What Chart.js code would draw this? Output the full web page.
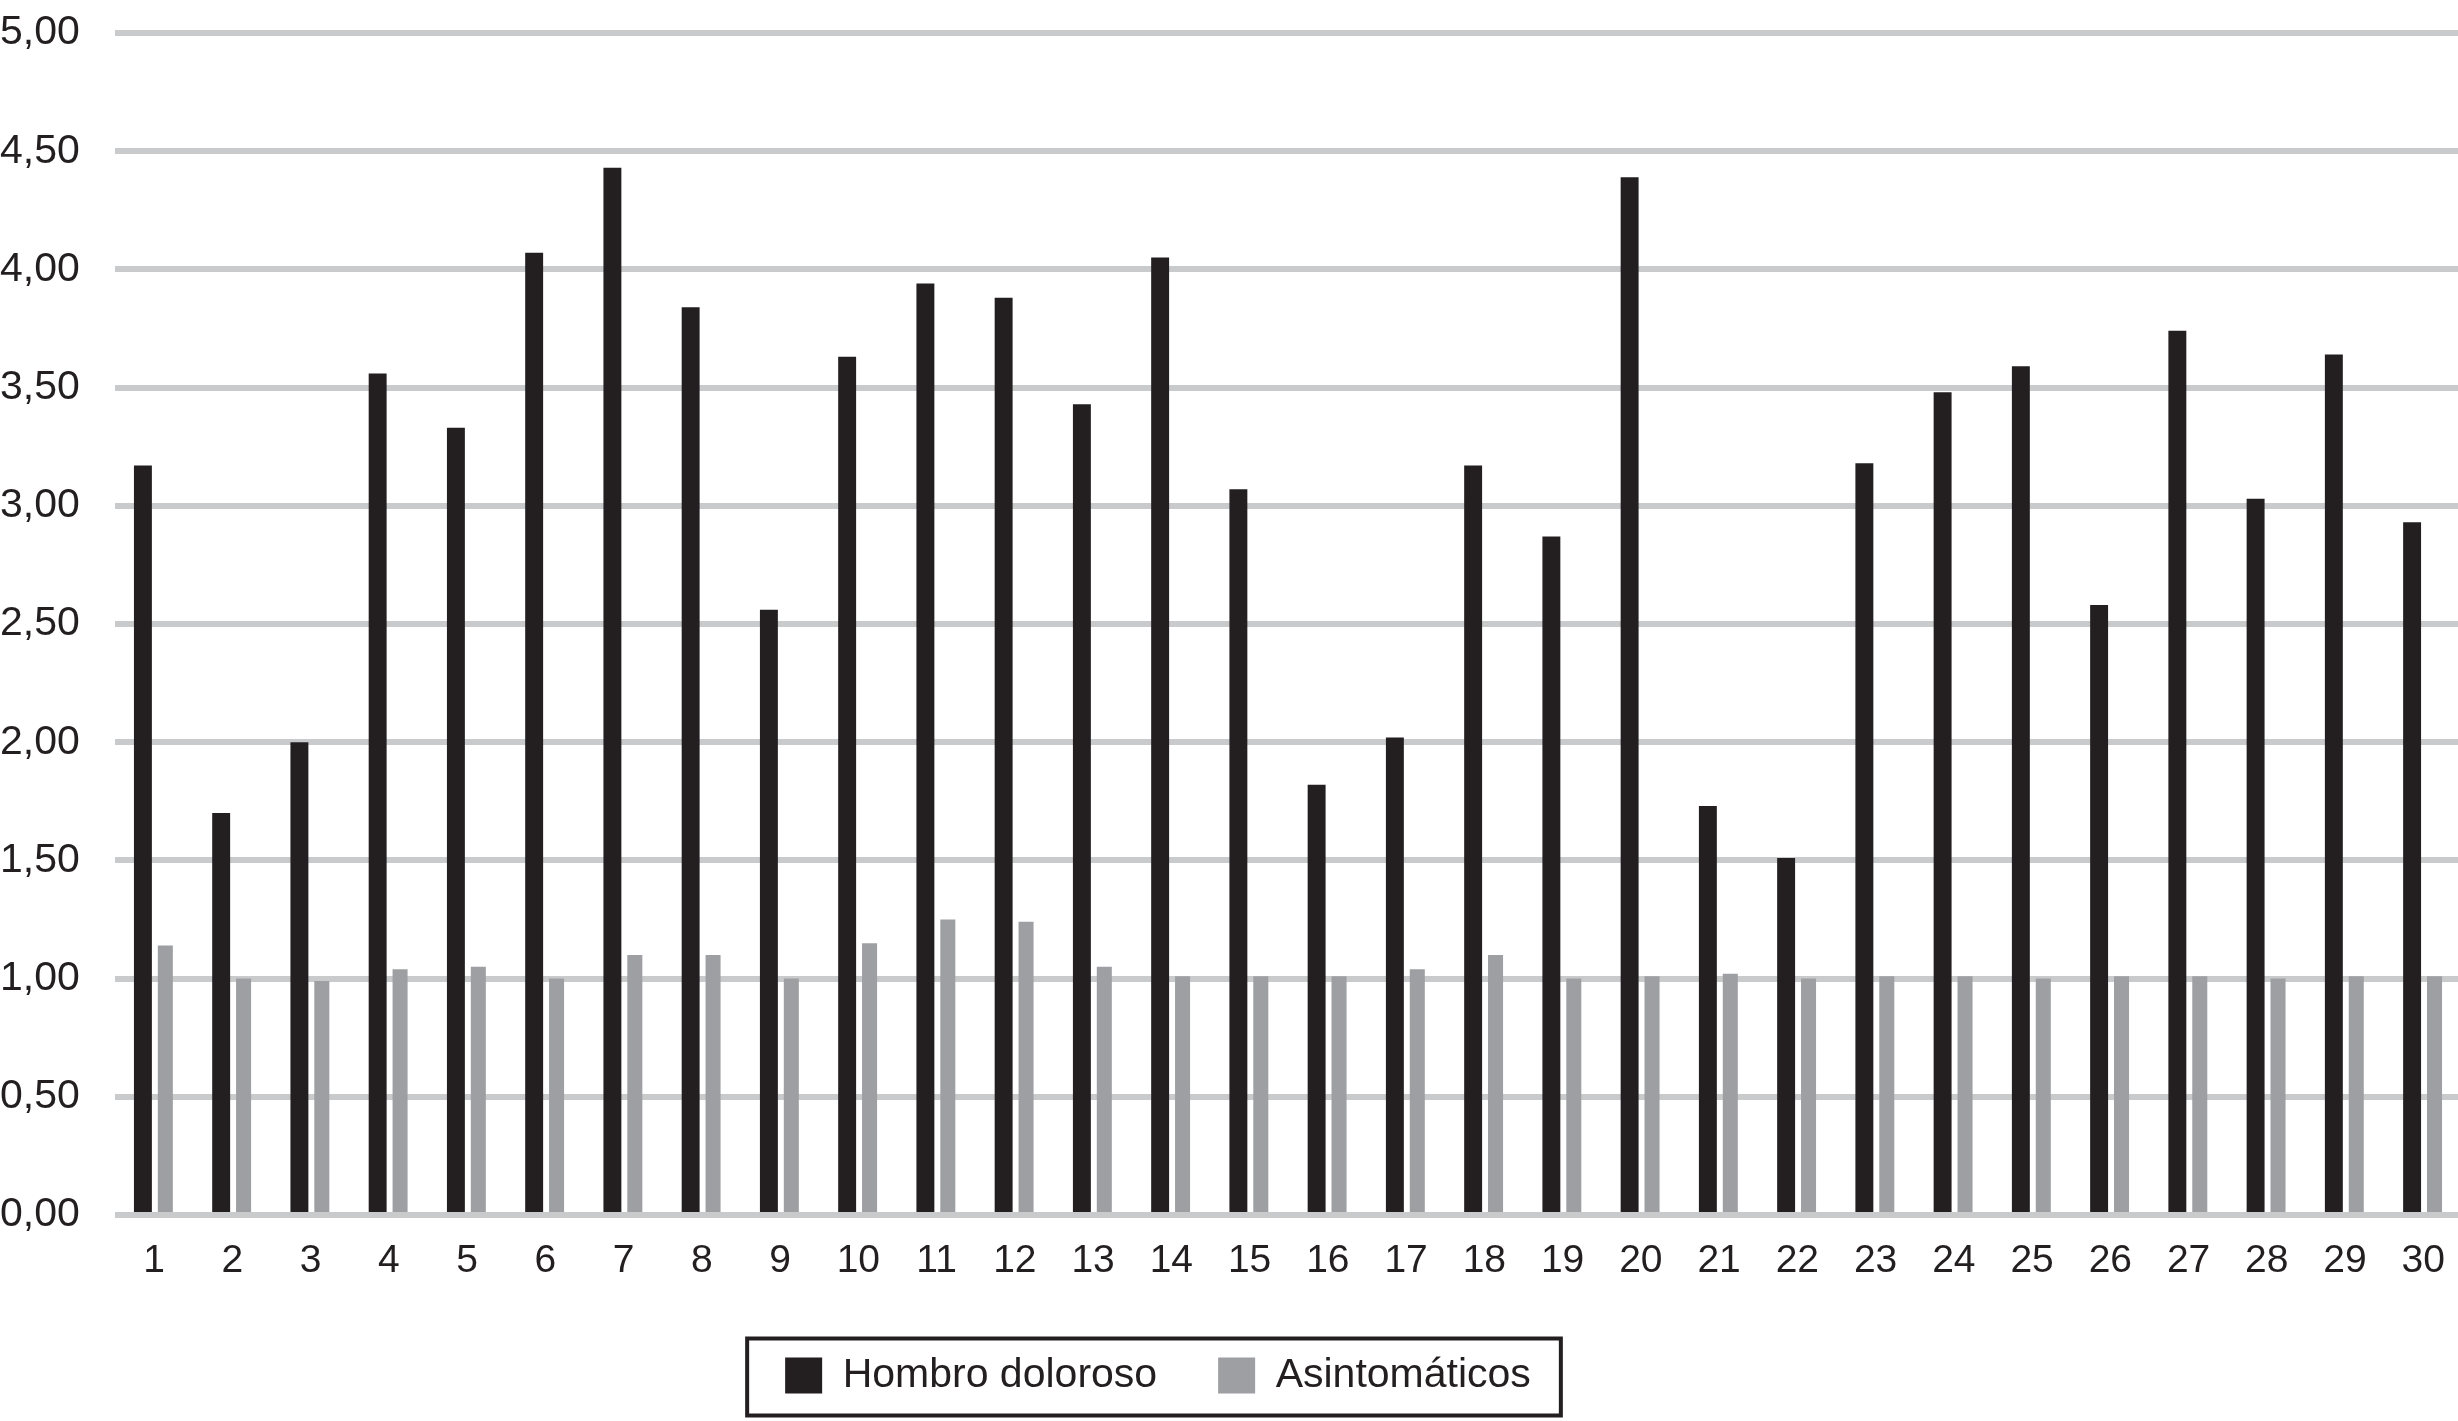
<!DOCTYPE html>
<html>
<head>
<meta charset="utf-8">
<script src="https://cdn.jsdelivr.net/npm/chart.js@4/dist/chart.umd.min.js"></script>
<style>
  html, body { margin: 0; padding: 0; background: #fff; overflow: hidden; }
  #wrap { width: 2468px; height: 1421px; }
</style>
</head>
<body>
<div id="wrap"><canvas id="chart" width="2468" height="1421"></canvas></div>
<script>
// categories (subjects 1..30)
const categories = ["1","2","3","4","5","6","7","8","9","10","11","12","13","14","15",
  "16","17","18","19","20","21","22","23","24","25","26","27","28","29","30"];

// Hombro doloroso
const hombroDoloroso = [3.17, 1.70, 2.00, 3.56, 3.33, 4.07, 4.43, 3.84, 2.56, 3.63,
  3.94, 3.88, 3.43, 4.05, 3.07, 1.82, 2.02, 3.17, 2.87, 4.39,
  1.73, 1.51, 3.18, 3.48, 3.59, 2.58, 3.74, 3.03, 3.64, 2.93];

// Asintomáticos
const asintomaticos = [1.14, 1.00, 0.99, 1.04, 1.05, 1.00, 1.10, 1.10, 1.00, 1.15,
  1.25, 1.24, 1.05, 1.01, 1.01, 1.01, 1.04, 1.10, 1.00, 1.01,
  1.02, 1.00, 1.01, 1.01, 1.00, 1.01, 1.01, 1.00, 1.01, 1.01];

const seriesNames = ["Hombro doloroso", "Asintomáticos"];
const yMin = 0, yMax = 5, yStep = 0.5;

const FONT = "'Liberation Sans', Arial, sans-serif";
const INK = "#231f20";
const LEGEND_SHIFT = 76; // legend sits a bit left of the page centre

// move legend left and draw the box round it
const legendFrame = {
  id: "legendFrame",
  afterLayout(chart) {
    const lg = chart.legend;
    lg.left -= LEGEND_SHIFT;
    lg.right -= LEGEND_SHIFT;
    (lg.legendHitBoxes || []).forEach(b => { b.left -= LEGEND_SHIFT; });
  },
  afterDraw(chart) {
    const boxes = chart.legend.legendHitBoxes;
    if (!boxes || !boxes.length) return;
    const first = boxes[0], last = boxes[boxes.length - 1];
    const cy = first.top + first.height / 2;
    const left = first.left - 38;
    const right = last.left + last.width + 30;
    const ctx = chart.ctx;
    ctx.save();
    ctx.strokeStyle = INK;
    ctx.lineWidth = 4;
    ctx.strokeRect(left, cy - 37, right - left, 77);
    ctx.restore();
  }
};

const ctx = document.getElementById("chart").getContext("2d");
new Chart(ctx, {
  type: "bar",
  data: {
    labels: categories,
    datasets: [
      { label: seriesNames[0], data: hombroDoloroso, backgroundColor: INK, barPercentage: 0.80 },
      { label: seriesNames[1], data: asintomaticos, backgroundColor: "#9d9fa2", barPercentage: 0.67 }
    ]
  },
  options: {
    responsive: false,
    animation: false,
    categoryPercentage: 0.573,
    layout: { padding: { top: 33, left: 0, right: 0, bottom: 15 } },
    plugins: {
      tooltip: { enabled: false },
      legend: {
        position: "bottom",
        labels: {
          font: { family: FONT, size: 41 },
          color: INK,
          boxWidth: 37,
          boxHeight: 36,
          padding: 61
        }
      }
    },
    scales: {
      x: {
        grid: { display: false, drawTicks: false },
        border: { display: false },
        ticks: { font: { family: FONT, size: 39 }, color: INK, padding: 23, maxRotation: 0, autoSkip: false },
        afterFit: s => { s.height = 79; }
      },
      y: {
        min: yMin, max: yMax,
        grid: { color: "#c9cacc", lineWidth: 6, drawTicks: false },
        border: { display: false },
        ticks: {
          stepSize: yStep,
          font: { family: FONT, size: 41 },
          color: INK,
          padding: 0,
          crossAlign: "far",
          callback: v => v.toFixed(2).replace(".", ",")
        },
        afterFit: s => { s.width = 115; }
      }
    }
  },
  plugins: [legendFrame]
});
</script>
</body>
</html>
